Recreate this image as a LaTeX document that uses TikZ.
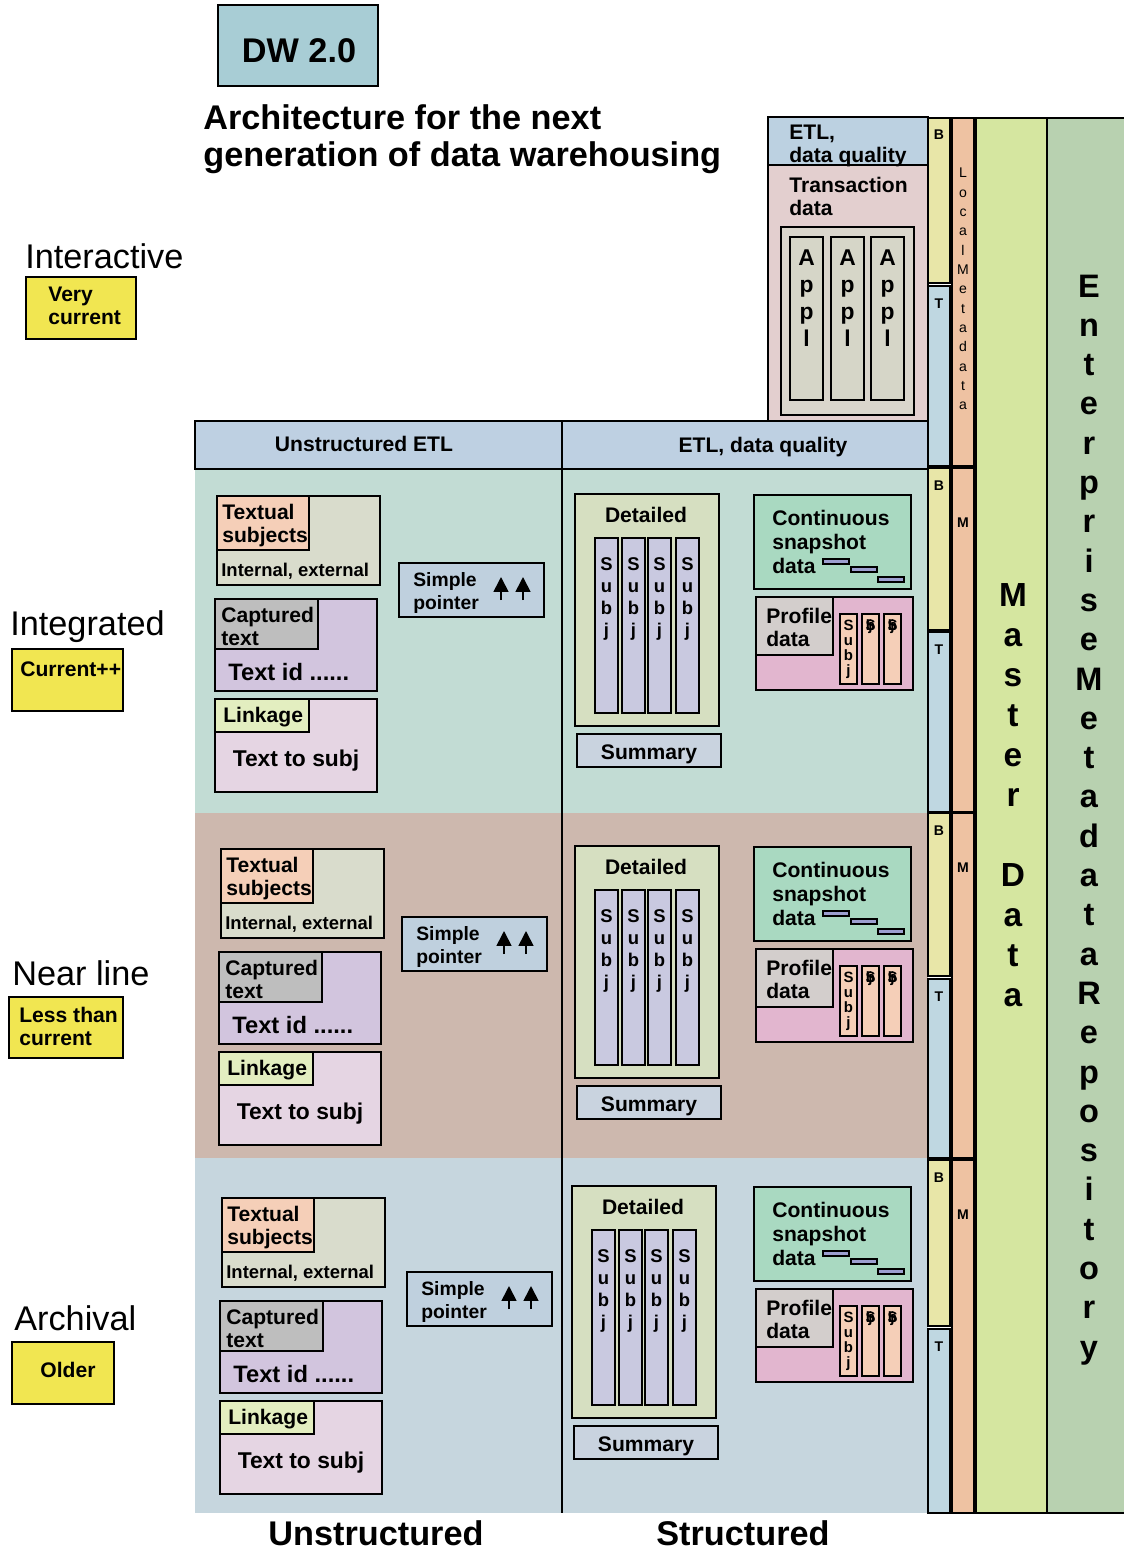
\documentclass[tikz,border=0pt]{standalone}
\usepackage{fontspec}
\setmainfont{Liberation Sans}
\usetikzlibrary{arrows.meta}
\definecolor{dwblue}{RGB}{168,205,213}
\definecolor{lvlyel}{RGB}{241,230,81}
\definecolor{headc}{RGB}{190,208,226}
\definecolor{bandA}{RGB}{194,220,212}
\definecolor{bandB}{RGB}{205,184,174}
\definecolor{bandC}{RGB}{198,214,222}
\definecolor{textual}{RGB}{217,220,204}
\definecolor{peach}{RGB}{245,207,184}
\definecolor{captc}{RGB}{210,197,222}
\definecolor{captgray}{RGB}{190,190,190}
\definecolor{linkc}{RGB}{229,213,227}
\definecolor{linklab}{RGB}{227,238,192}
\definecolor{ptrc}{RGB}{191,208,222}
\definecolor{detail}{RGB}{214,223,193}
\definecolor{subjc}{RGB}{201,201,224}
\definecolor{summc}{RGB}{201,211,223}
\definecolor{contc}{RGB}{169,217,193}
\definecolor{barc}{RGB}{157,159,208}
\definecolor{profc}{RGB}{226,182,207}
\definecolor{profgray}{RGB}{211,206,204}
\definecolor{etlc}{RGB}{188,209,225}
\definecolor{transc}{RGB}{227,207,207}
\definecolor{applc}{RGB}{218,214,204}
\definecolor{applcol}{RGB}{214,214,200}
\definecolor{nyel}{RGB}{232,230,168}
\definecolor{nblu}{RGB}{191,215,225}
\definecolor{norg}{RGB}{238,194,162}
\definecolor{masterc}{RGB}{213,230,160}
\definecolor{erpc}{RGB}{184,209,176}
\newcommand{\fsz}[2]{\fontsize{#1}{#2}\selectfont}
\tikzset{
  blk/.style={draw=black, line width=1.2pt},
  thinblk/.style={draw=black, line width=0.9pt},
  txt/.style={inner sep=0pt, anchor=north west, align=left, font=\bfseries\fsz{12}{13}},
  ctext/.style={inner sep=0pt, anchor=base, font=\bfseries\fsz{12}{13}},
  lvl/.style={inner sep=0pt, anchor=base west, font=\fsz{19.5}{22}},
  vchar/.style={inner sep=0pt, anchor=base},
  ptr/.style={line width=1pt, -{Triangle[width=8.5pt,length=8.5pt]}},
}
\begin{document}
\begin{tikzpicture}[x=0.02cm, y=-0.02cm]
\useasboundingbox (0,0) rectangle (1124,1551);

% title
\draw[blk, fill=dwblue] (218,5) rectangle (378,86);
\node (dw) [ctext, font=\bfseries\fsz{19.5}{22}] at (299,63) {DW 2.0};
\node (title) [txt, font=\bfseries\fsz{19.5}{21}] at (203,104) {Architecture for the next\\generation of data warehousing};

% levels
\node (lv1) [lvl] at (25,268) {Interactive};
\draw[blk, fill=lvlyel] (26,277) rectangle (136,339);
\node (lv1t) [txt] at (48,287) {Very\\current};
\node (lv2) [lvl] at (10,635) {Integrated};
\draw[blk, fill=lvlyel] (12,649) rectangle (123,711);
\node (lv2t) [txt] at (20,661) {Current++};
\node (lv3) [lvl] at (12,985) {Near line};
\draw[blk, fill=lvlyel] (9,997) rectangle (123,1058);
\node (lv3t) [txt] at (19,1007) {Less than\\current};
\node (lv4) [lvl] at (14,1330) {Archival};
\draw[blk, fill=lvlyel] (12,1342) rectangle (114,1404);
\node (lv4t) [ctext] at (68,1377) {Older};

% bands
\foreach \nm/\col/\top/\bot/\ux/\uy/\px/\py/\dx/\sy in
  {int/bandA/469/813/0/0/0/0/0/0, near/bandB/813/1158/4/353/3/354/0/352,
   arch/bandC/1158/1513/5/702/8/709/-3/692}
{
  \fill[\col] (195,\top) rectangle (928,\bot);
  \begin{scope}[shift={(\ux,\uy)}]
    \draw[blk, fill=textual] (217,496) rectangle (380,585);
    \draw[blk, fill=peach] (217,496) rectangle (309,550);
    \node (ts-\nm) [txt, font=\bfseries\fsz{12}{12.8}] at (222,504) {Textual\\subjects};
    \node (ie-\nm) [inner sep=0pt, anchor=base west, font=\bfseries\fsz{10.5}{12}] at (221,576) {Internal, external};
    \draw[blk, fill=captc] (215,599) rectangle (377,691);
    \draw[blk, fill=captgray] (215,599) rectangle (318,649);
    \node (ct-\nm) [txt] at (221,607) {Captured\\text};
    \node (ti-\nm) [inner sep=0pt, anchor=base west, font=\bfseries\fsz{13.5}{15}] at (228,680) {Text id ......};
    \draw[blk, fill=linkc] (215,699) rectangle (377,792);
    \draw[blk, fill=linklab] (215,699) rectangle (309,732);
    \node (lk-\nm) [txt] at (223,707) {Linkage};
    \node (tt-\nm) [ctext, font=\bfseries\fsz{13}{15}] at (296,766) {Text to subj};
  \end{scope}
  \begin{scope}[shift={(\px,\py)}]
    \draw[blk, fill=ptrc] (399,563) rectangle (544,617);
    \node (sp-\nm) [txt, font=\bfseries\fsz{11}{13}] at (413,572) {Simple\\pointer};
    \draw[ptr] (501,600) -- (501,577);
    \draw[ptr] (523,600) -- (523,577);
  \end{scope}
  \begin{scope}[shift={(\dx,\sy)}]
    \draw[blk, fill=detail] (575,494) rectangle (719,726);
    \node (dt-\nm) [ctext] at (646,522) {Detailed};
    \foreach \cx [count=\k] in {595,622,648,676} {
      \draw[blk, fill=subjc] (\cx,538) rectangle (\cx+23,713);
      \foreach \c [count=\j] in {S,u,b,j}
        \node (s\k\j-\nm) [vchar, font=\bfseries\fsz{10.5}{12}] at (\cx+11.5,548+22*\j) {\c};
    }
    \draw[blk, fill=summc] (577,734) rectangle (721,767);
    \node (sm-\nm) [ctext] at (649,759) {Summary};
  \end{scope}
  \begin{scope}[shift={(0,\sy)}]
    \draw[blk, fill=contc] (754,495) rectangle (911,589);
    \node (cs-\nm) [txt, font=\bfseries\fsz{12}{13.6}] at (772,510) {Continuous\\snapshot\\data};
    \foreach \bx/\by in {823/559, 851/567, 878/577}
      \draw[thinblk, fill=barc] (\bx,\by) rectangle (\bx+26,\by+5);
    \draw[blk, fill=profc] (756,597) rectangle (913,690);
    \draw[blk, fill=profgray] (756,597) rectangle (833,655);
    \node (pd-\nm) [txt, font=\bfseries\fsz{12}{12.8}] at (766,608) {Profile\\data};
    \foreach \cx in {840,862,884}
      \draw[thinblk, fill=peach] (\cx,614) rectangle (\cx+17,684);
    \foreach \c [count=\j] in {S,u,b,j}
      \node (ps\j-\nm) [vchar, font=\bfseries\fsz{8.5}{10}] at (848.5,615+15*\j) {\c};
    \foreach \cx in {870.5,892.5}
      \node (pg\cx-\nm) [vchar, font=\bfseries\fsz{8.5}{10}] at (\cx,630)
        {\makebox[0pt]{S}\makebox[0pt]{b}\makebox[0pt]{j}};
  \end{scope}
}

% headers
\draw[blk, fill=headc] (195,421) rectangle (562,469);
\draw[blk, fill=headc] (562,421) rectangle (928,469);
\node (hu) [ctext] at (364,451) {Unstructured ETL};
\node (hs) [ctext] at (763,452) {ETL, data quality};
\draw[blk] (562,469) -- (562,1513);

% transaction side
\draw[blk, fill=transc] (768,165) rectangle (928,421);
\draw[blk, fill=etlc] (768,117) rectangle (928,165);
\node (etl) [txt] at (789,125) {ETL,\\data quality};
\node (trd) [txt] at (789,177) {Transaction\\data};
\draw[blk, fill=applc] (781,227) rectangle (914,415);
\foreach \cx [count=\k] in {790,831,871} {
  \draw[blk, fill=applcol] (\cx,237) rectangle (\cx+33,400);
  \foreach \c [count=\j] in {A,p,p,l}
    \node (ap\k\j) [vchar, font=\bfseries\fsz{13}{15}] at (\cx+16.5,237.7+27.3*\j) {\c};
}

% metadata columns
\foreach \a/\b/\col/\lab in {118/283/nyel/B, 286/466/nblu/T, 468/630/nyel/B, 632/812/nblu/T,
    813/976/nyel/B, 979/1158/nblu/T, 1160/1326/nyel/B, 1329/1513/nblu/T} {
  \draw[blk, fill=\col] (928,\a) rectangle (950,\b);
  \node (nl\a) [vchar, font=\bfseries\fsz{8}{9}] at (939,\a+22) {\lab};
}
\foreach \a/\b in {118/466, 468/812, 813/1158, 1160/1513}
  \draw[blk, fill=norg] (952,\a) rectangle (974,\b);
\foreach \c [count=\j] in {L,o,c,a,l,M,e,t,a,d,a,t,a}
  \node (lm\j) [vchar, font=\fsz{8}{9}] at (963,158.7+19.3*\j) {\c};
\foreach \a in {468,813,1160}
  \node (mm\a) [vchar, font=\bfseries\fsz{8}{9}] at (963,\a+59) {M};

\draw[blk, fill=masterc] (976,118) rectangle (1047,1513);
\foreach \c/\k in {M/0,a/1,s/2,t/3,e/4,r/5,D/7,a/8,t/9,a/10}
  \node (md\k) [vchar, font=\bfseries\fsz{19}{22}] at (1013,606+40*\k) {\c};
\draw[blk, fill=erpc] (1047,118) rectangle (1130,1513);
\foreach \c [count=\j] in {E,n,t,e,r,p,r,i,s,e,M,e,t,a,d,a,t,a,R,e,p,o,s,i,t,o,r,y}
  \node (er\j) [vchar, font=\bfseries\fsz{18.5}{22}] at (1089,257.7+39.3*\j) {\c};

% bottom labels
\node (bu) [ctext, font=\bfseries\fsz{19.5}{22}] at (376,1545) {Unstructured};
\node (bs) [ctext, font=\bfseries\fsz{19.5}{22}] at (743,1545) {Structured};
\end{tikzpicture}
\end{document}
